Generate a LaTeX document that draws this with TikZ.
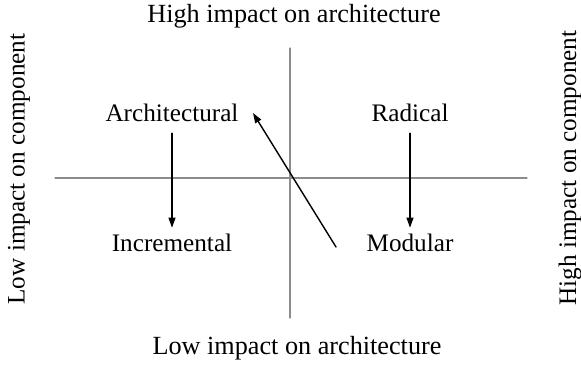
\documentclass[tikz,border=0pt]{standalone}
\usepackage{fontspec}
\setmainfont{Liberation Serif}
\usetikzlibrary{arrows.meta}
\begin{document}
\begin{tikzpicture}[x=0.5pt, y=-0.5pt, line cap=round, line join=round,
    axis/.style={line width=0.55pt, draw=black!45},
    arr/.style={line width=0.7pt, -{Triangle[length=5pt, width=3.4pt]}},
    lbl/.style={inner sep=0pt, font=\fontsize{12.6}{15}\selectfont},
    ttl/.style={inner sep=0pt, font=\fontsize{13.1}{15}\selectfont},
    side/.style={lbl, rotate=90}]
  \useasboundingbox (0,0) rectangle (581,364);
  % axes
  \coordinate (top) at (290,48);
  \coordinate (bot) at (290,318);
  \coordinate (lft) at (55,178);
  \coordinate (rgt) at (527,178);
  \draw[axis] (top) -- (bot);
  \draw[axis] (lft) -- (rgt);
  % axis titles
  \node[ttl] (hiarch) at (294,16) {High impact on architecture};
  \node[ttl] (loarch) at (297,348) {Low impact on architecture};
  \node[side] (locomp) at (19,169) {Low impact on component};
  \node[side] (hicomp) at (570,168) {High impact on component};
  % quadrants
  \node[lbl] (arch) at (172,113) {Architectural};
  \node[lbl] (rad) at (410,113) {Radical};
  \node[lbl] (inc) at (172,243) {Incremental};
  \node[lbl] (mod) at (410,243) {Modular};
  \draw[arr, shorten <=5.5pt, shorten >=3pt] (arch.south) -- (inc.north);
  \draw[arr, shorten <=5.5pt, shorten >=3pt] (rad.south) -- (mod.north);
  % modular back to architectural
  \coordinate (d1) at (336,247);
  \coordinate (d2) at (253,113);
  \draw[arr] (d1) -- (d2);
\end{tikzpicture}
\end{document}
